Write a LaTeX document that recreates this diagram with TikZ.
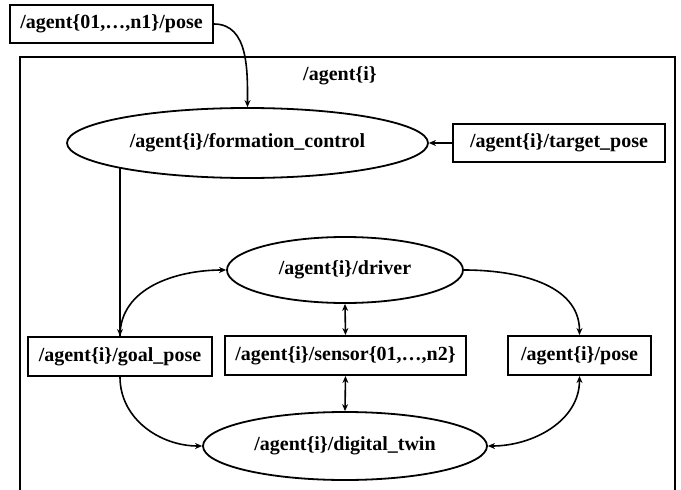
\documentclass[tikz,border=0pt]{standalone}
\usepackage{fontspec}
\setmainfont{Liberation Serif}
\usetikzlibrary{shapes.geometric,arrows.meta}
\begin{document}
\begin{tikzpicture}[x=1pt,y=-1pt,
  every node/.style={font=\fontsize{20}{22}\selectfont\bfseries, inner sep=0pt},
  topicbox/.style={draw, line width=2pt, rectangle},
  nodeell/.style={draw, line width=1.8pt, ellipse},
  link/.style={line width=1.6pt, -{Stealth[length=7pt,width=6pt]}},
  dlink/.style={line width=1.6pt, {Stealth[length=7pt,width=6pt]}-{Stealth[length=7pt,width=6pt]}}]
\useasboundingbox (0,0) rectangle (681,490);
\fill[white] (0,0) rectangle (681,490);
% namespace frame
\draw[line width=1.7pt] (20,57) rectangle (675,520);
\node (ns) at (340,76) {/agent\{i\}};
% topics
\node[topicbox, minimum width=203pt, minimum height=38pt] (allpose) at (111.5,24) {/agent\{01,\ldots,n1\}/pose};
\node[topicbox, minimum width=212pt, minimum height=38pt] (target) at (559,143) {/agent\{i\}/target\_pose};
\node[topicbox, minimum width=184pt, minimum height=39pt] (goal) at (120,356.5) {/agent\{i\}/goal\_pose};
\node[topicbox, minimum width=241pt, minimum height=39pt] (sensor) at (345.5,355.5) {/agent\{i\}/sensor\{01,\ldots,n2\}};
\node[topicbox, minimum width=143pt, minimum height=39pt] (pose) at (579.5,355.5) {/agent\{i\}/pose};
% nodes
\node[nodeell, minimum width=361pt, minimum height=70pt] (form) at (247.5,143) {/agent\{i\}/formation\_control};
\node[nodeell, minimum width=236pt, minimum height=66pt] (driver) at (345,270) {/agent\{i\}/driver};
\node[nodeell, minimum width=284pt, minimum height=68pt] (twin) at (345,446) {/agent\{i\}/digital\_twin};
% connections
\draw[link] (allpose.east) to[out=0,in=90] (form.north);
\draw[link] (target.west) -- (form.east);
\draw[link] (goal.north |- form.191) -- (goal.north);
\draw[link] (goal.north) to[out=90,in=180] (driver.west);
\draw[link] (goal.south) to[out=-90,in=180] (twin.west);
\draw[link] (driver.east) to[out=0,in=90] (pose.north);
\draw[dlink] (pose.south) to[out=-90,in=0] (twin.east);
\draw[dlink] (driver.south) -- (sensor.north);
\draw[dlink] (sensor.south) -- (twin.north);
\end{tikzpicture}
\end{document}
